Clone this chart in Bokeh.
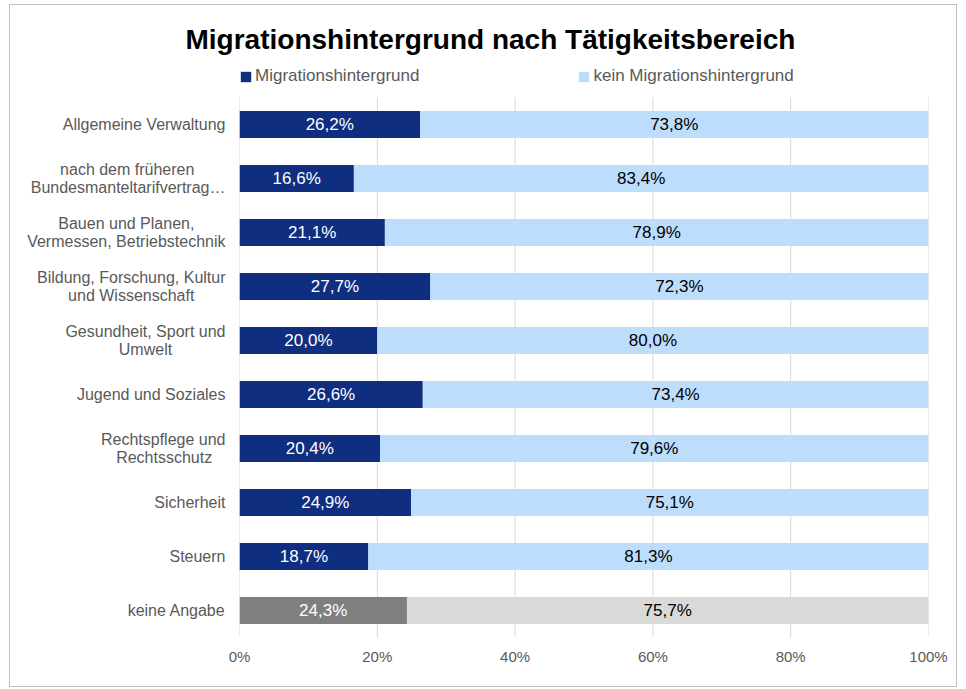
from bokeh.plotting import figure
from bokeh.models import (ColumnDataSource, Range1d, FixedTicker, Legend, LegendItem)
from bokeh.core.properties import value
from bokeh.embed import file_html
from bokeh.resources import INLINE

categories = [
    "Allgemeine Verwaltung",
    "nach dem früheren\nBundesmanteltarifvertrag…",
    "Bauen und Planen,\nVermessen, Betriebstechnik",
    "Bildung, Forschung, Kultur\nund Wissenschaft",
    "Gesundheit, Sport und\nUmwelt",
    "Jugend und Soziales",
    "Rechtspflege und\nRechtsschutz",
    "Sicherheit",
    "Steuern",
    "keine Angabe",
]
mig = [26.2, 16.6, 21.1, 27.7, 20.0, 26.6, 20.4, 24.9, 18.7, 24.3]
kein = [73.8, 83.4, 78.9, 72.3, 80.0, 73.4, 79.6, 75.1, 81.3, 75.7]
x_ticks = [0, 20, 40, 60, 80, 100]
x_tick_labels = ["0%", "20%", "40%", "60%", "80%", "100%"]

NAVY = "#0F2E80"
LIGHT = "#BDDDFD"
DGRAY = "#7F7F7F"
LGRAY = "#D9D9D9"
FONT = "Liberation Sans"

# approximate Liberation Sans advance widths (1/1000 em), used only to centre
# the lines of the multi-line category labels the way the original does
W = dict(zip("abcdefghijklmnopqrstuvwxyzü",
             [556, 556, 500, 556, 556, 278, 556, 556, 222, 222, 500, 222, 833,
              556, 556, 556, 556, 333, 500, 278, 556, 500, 722, 500, 500, 500, 556]))
W.update(dict(zip("ABCDEFGHIJKLMNOPQRSTUVWXYZ",
                  [667, 667, 722, 722, 667, 611, 778, 722, 278, 500, 667, 556, 833,
                   722, 778, 667, 778, 722, 667, 611, 722, 667, 944, 667, 667, 611])))
W.update({" ": 278, ",": 278, ".": 278, "…": 1000})


def text_w(s):
    return sum(W.get(ch, 556) for ch in s) / 1000.0


def centre_lines(label):
    lines = label.split("\n")
    if len(lines) == 1:
        return label
    mw = max(text_w(l) for l in lines)
    return "\n".join(l + "\u00a0" * round((mw - text_w(l)) / 2 / 0.278) for l in lines)


n = len(categories)
ys = list(range(n))
mig_colors = [DGRAY if c == "keine Angabe" else NAVY for c in categories]
kein_colors = [LGRAY if c == "keine Angabe" else LIGHT for c in categories]

fmt = lambda v: f"{v:.1f}%".replace(".", ",")
src = ColumnDataSource(dict(
    y=ys,
    zero=[0] * n,
    mig=mig,
    total=[m + k for m, k in zip(mig, kein)],
    mig_col=mig_colors,
    kein_col=kein_colors,
    mig_mid=[m / 2 for m in mig],
    kein_mid=[m + k / 2 for m, k in zip(mig, kein)],
    mig_lab=[fmt(v) for v in mig],
    kein_lab=[fmt(v) for v in kein],
))

legend_room = 30 / 54  # extra space at the top of the frame for the legend
p = figure(width=948, height=683, output_backend="svg", toolbar_location=None,
           y_range=Range1d(n - 0.5, -0.5 - legend_room),
           x_range=Range1d(0, 100),
           min_border_left=229, min_border_right=30, min_border_top=62,
           min_border_bottom=51)
p.styles = {"border": "1px solid #BFBFBF", "margin-left": "9px", "margin-top": "4px"}

# vertical grid lines spanning the category rows only
p.segment(x0=x_ticks, x1=x_ticks, y0=[-0.5] * len(x_ticks), y1=[n - 0.5] * len(x_ticks),
          line_color="#D9D9D9", line_width=1)

r1 = p.hbar(y="y", left="zero", right="mig", height=0.5, color="mig_col",
            line_color=None, source=src)
r2 = p.hbar(y="y", left="mig", right="total", height=0.5, color="kein_col",
            line_color=None, source=src)

p.text(x="mig_mid", y="y", text="mig_lab", source=src, text_align="center",
       text_baseline="middle", text_color="white", text_font_size="17px",
       text_font=value(FONT))
p.text(x="kein_mid", y="y", text="kein_lab", source=src, text_align="center",
       text_baseline="middle", text_color="black", text_font_size="17px",
       text_font=value(FONT))

p.title.text = "Migrationshintergrund nach Tätigkeitsbereich"
p.title.text_font = FONT
p.title.text_font_size = "28px"
p.title.text_font_style = "bold"
p.title.text_color = "black"
p.title.align = "left"
p.title.offset = -54
p.title.standoff = 26

legend = Legend(items=[LegendItem(label="Migrationshintergrund", renderers=[r1]),
                       LegendItem(label="kein Migrationshintergrund", renderers=[r2])],
                orientation="horizontal", location=(0, 551),
                glyph_width=13, glyph_height=13, label_standoff=3, spacing=158,
                padding=0, margin=0, border_line_color=None,
                label_text_font=FONT, label_text_font_size="17px",
                label_text_color="#595959", background_fill_alpha=0)
p.add_layout(legend, "center")

p.xaxis.ticker = FixedTicker(ticks=x_ticks)
p.xaxis.major_label_overrides = {t: l for t, l in zip(x_ticks, x_tick_labels)}
p.yaxis.ticker = FixedTicker(ticks=ys)
p.yaxis.major_label_overrides = {y: centre_lines(c) for y, c in zip(ys, categories)}
for ax in (p.xaxis, p.yaxis):
    ax.axis_line_color = None
    ax.major_tick_line_color = None
    ax.minor_tick_line_color = None
    ax.major_tick_out = 0
    ax.major_label_text_font = FONT
    ax.major_label_text_color = "#595959"
p.xaxis.major_label_text_font_size = "15px"
p.yaxis.major_label_text_font_size = "16px"
p.yaxis.major_label_text_line_height = 1.1
p.xaxis.major_label_standoff = 10
p.yaxis.major_label_standoff = 14

p.xgrid.grid_line_color = None
p.ygrid.grid_line_color = None
p.outline_line_color = None

open("out.html", "w").write(file_html(p, INLINE))
